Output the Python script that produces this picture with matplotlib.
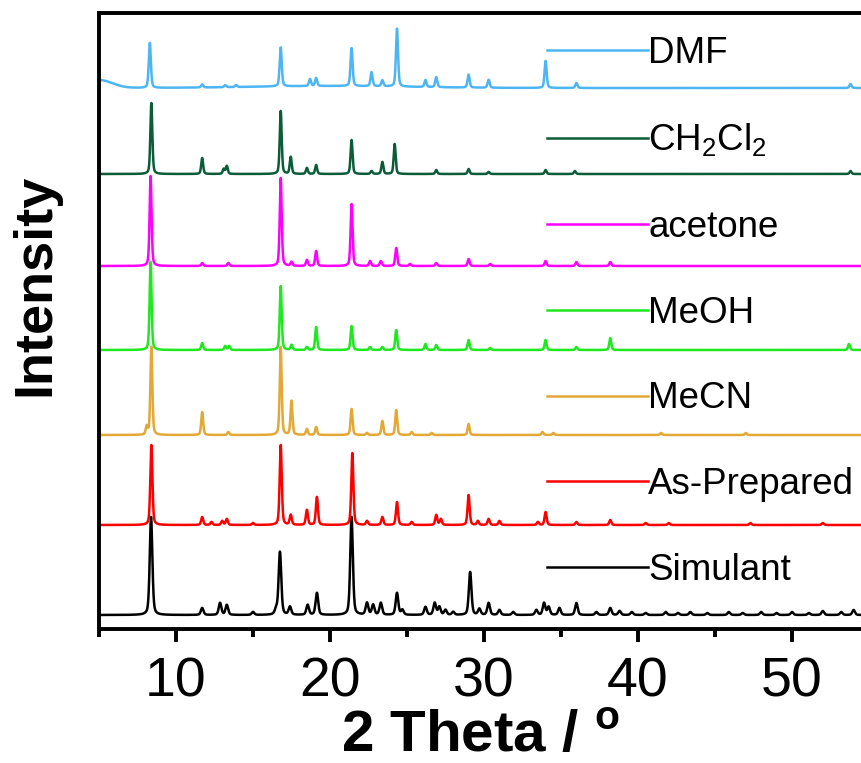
#!/usr/bin/env python3

import numpy as np
import matplotlib
matplotlib.use("Agg")
import matplotlib.pyplot as plt
from matplotlib.ticker import MultipleLocator

plt.rcParams['font.family'] = ['Liberation Sans', 'DejaVu Sans']
plt.rcParams['mathtext.fontset'] = 'custom'
plt.rcParams['mathtext.rm'] = 'Liberation Sans'
plt.rcParams['mathtext.bf'] = 'Liberation Sans:bold'

# peak positions (2 theta) and heights for each pattern
sim_pos = [8.38, 11.7, 12.86, 13.3, 15.0, 16.5, 16.75, 17.4, 18.55, 19.15, 21.4,
           22.4, 22.8, 23.3, 24.35, 24.7, 26.2, 26.8, 27.1, 27.5, 28.0, 29.1, 29.7,
           30.3, 31.0, 31.9, 33.4, 33.9, 34.2, 34.9, 36.0, 37.3, 38.2, 38.8, 39.6,
           40.5, 41.8, 42.6, 43.4, 44.5, 45.9, 46.8, 48.0, 49.0, 50.0, 51.1, 52.0,
           53.2, 54.0]
sim_h = [98, 7, 12, 10, 3, 5, 63, 8, 10, 22, 98,
         12, 10, 12, 22, 5, 8, 12, 8, 5, 3, 43, 6,
         12, 5, 3, 5, 12, 8, 7, 12, 3, 7, 4, 3,
         2, 3, 2, 3, 2, 3, 2, 3, 2, 3, 2, 4,
         3, 5]

prep_pos = [8.4, 11.7, 12.3, 13.0, 13.3, 15.0, 16.8, 17.45, 18.5, 19.15, 21.45,
            22.4, 23.4, 24.35, 25.3, 26.9, 27.2, 29.0, 29.6, 30.3, 31.0, 33.5,
            34.0, 36.0, 38.2, 40.5, 42.0, 47.3, 52.0]
prep_h = [80, 8, 3, 4, 6, 2, 80, 10, 15, 28, 72,
          4, 8, 23, 3, 10, 6, 30, 4, 6, 4, 3,
          13, 3, 5, 2, 2, 2, 2]

mecn_pos = [8.1, 8.4, 11.7, 13.4, 16.8, 17.5, 18.5, 19.1, 21.4, 22.4, 23.4,
            24.3, 25.3, 26.6, 29.0, 33.8, 34.5, 41.5, 47.0]
mecn_h = [8, 88, 23, 3, 88, 34, 6, 8, 26, 2, 14,
          25, 3, 2, 11, 3, 2, 2, 2]

meoh_pos = [8.35, 11.7, 13.2, 13.45, 16.8, 17.5, 18.5, 19.1, 21.4, 22.6, 23.4,
            24.3, 26.2, 26.9, 29.0, 30.4, 34.0, 36.0, 38.2, 53.7]
meoh_h = [88, 7, 4, 4, 64, 5, 3, 23, 24, 3, 3,
          20, 6, 5, 10, 2, 10, 3, 12, 6]

acet_pos = [8.35, 11.7, 13.4, 16.8, 17.5, 18.5, 19.1, 21.4, 22.6, 23.3, 24.3,
            25.2, 26.9, 29.0, 30.4, 34.0, 36.0, 38.2]
acet_h = [90, 3, 3, 88, 4, 6, 15, 62, 5, 5, 18,
          2, 3, 7, 2, 5, 4, 4]

dcm_pos = [8.4, 11.7, 13.1, 13.3, 16.8, 17.45, 18.5, 19.1, 21.4, 22.7, 23.4,
           24.2, 26.9, 29.0, 30.3, 34.0, 35.9, 53.8]
dcm_h = [71, 16, 5, 8, 63, 17, 6, 9, 34, 3, 12,
         30, 4, 5, 2, 4, 3, 3]

dmf_pos = [8.3, 11.7, 13.2, 13.9, 16.8, 18.7, 19.1, 21.4, 22.7, 23.4, 24.35,
           26.2, 26.9, 29.0, 30.3, 34.0, 36.0, 53.8]
dmf_h = [45, 3, 2, 2, 39, 7, 8, 38, 14, 6, 58,
         7, 10, 13, 8, 27, 5, 4]
# broad low-angle rise of the DMF background
dmf_bg_pos = [5.0, 20.0]
dmf_bg_h = [8, 2]
dmf_bg_w = [2.0, 12.0]

labels = ['Simulant', 'As-Prepared', 'MeCN', 'MeOH', 'acetone',
          r'CH$_\mathregular{2}$Cl$_\mathregular{2}$', 'DMF']
offsets = [14, 104, 194, 279, 363, 455, 541]
colors = ['black', '#ff0000', '#e3a835', '#1ee81e', '#ff00ff', '#0b5c38', '#4db6f2']


def profile(x, pos, h, fwhm):
    # pseudo-voigt peaks
    y = np.zeros_like(x)
    for p, a in zip(pos, h):
        d = (x - p) / (fwhm / 2)
        y += a * (0.6 * np.exp(-np.log(2) * d ** 2) + 0.4 / (1 + d ** 2))
    return y


def main():
    x = np.linspace(5, 55, 6000)

    dmf = profile(x, dmf_pos, dmf_h, 0.16)
    for p, a, w in zip(dmf_bg_pos, dmf_bg_h, dmf_bg_w):
        dmf += a * np.exp(-np.log(2) * ((x - p) / (w / 2)) ** 2)

    curves = [profile(x, sim_pos, sim_h, 0.2),
              profile(x, prep_pos, prep_h, 0.16),
              profile(x, mecn_pos, mecn_h, 0.15),
              profile(x, meoh_pos, meoh_h, 0.15),
              profile(x, acet_pos, acet_h, 0.15),
              profile(x, dcm_pos, dcm_h, 0.15),
              dmf]

    fig = plt.figure(figsize=(8.62, 7.63), dpi=100)
    ax = fig.add_axes([99 / 862, 1 - 629 / 763, 763 / 862, 616 / 763])

    lines = []
    for y, off, col, lab in zip(curves, offsets, colors, labels):
        ln, = ax.plot(x, y + off, color=col, lw=1.8, label=lab)
        lines.append(ln)

    ax.set_xlim(5, 5 + 763 / 15.4)
    ax.set_ylim(0, 616)
    ax.set_yticks([])
    ax.xaxis.set_major_locator(MultipleLocator(10))
    ax.xaxis.set_minor_locator(MultipleLocator(5))
    ax.tick_params(axis='x', which='major', direction='out', length=9.5, width=2.8,
                   labelsize=40, pad=10)
    ax.tick_params(axis='x', which='minor', direction='out', length=6, width=2.8)
    for s in ['left', 'bottom', 'top']:
        ax.spines[s].set_linewidth(2.8)
    ax.spines['right'].set_visible(False)

    ax.set_xlabel('2 Theta / $^\\mathbf{o}$', fontsize=42, fontweight='bold', labelpad=1)
    fig.text(35 / 862, 1 - 285 / 763, 'Intensity', rotation=90, fontsize=39,
             fontweight='bold', ha='center', va='center')

    leg = ax.legend(lines[::-1], labels[::-1], loc='upper left',
                    bbox_to_anchor=(547 / 862, 1 - 36 / 763),
                    bbox_transform=fig.transFigure, frameon=False, fontsize=26.5,
                    handlelength=2.75, handletextpad=0.0, labelspacing=1.38,
                    borderpad=0, borderaxespad=0)
    for t in leg.get_texts():
        t.set_color('black')

    plt.savefig('out.png', dpi=100)


if __name__ == '__main__':
    main()
